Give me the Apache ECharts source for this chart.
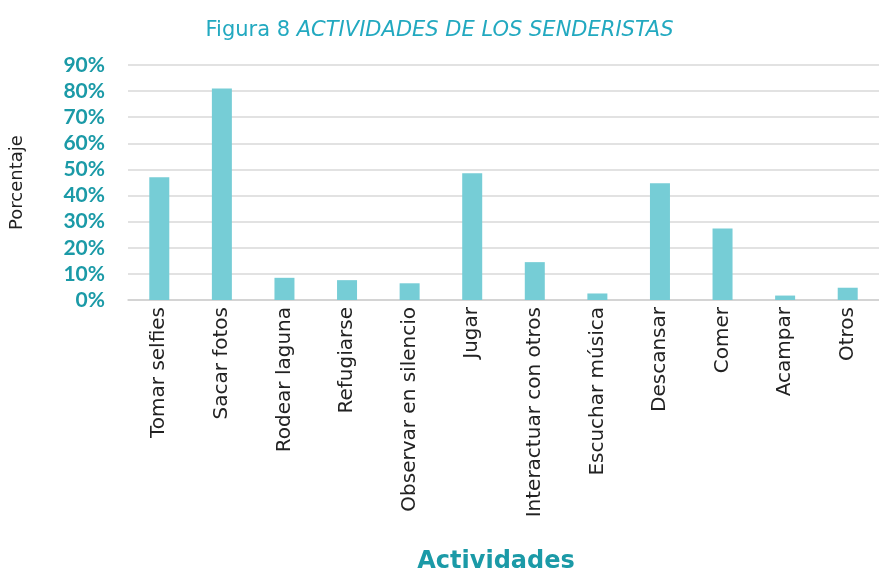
<!DOCTYPE html>
<html>
<head>
<meta charset="utf-8">
<script src="https://cdn.jsdelivr.net/npm/echarts@6/dist/echarts.min.js"></script>
<style>
  html, body { margin: 0; padding: 0; background: #fff; }
  #chart { width: 879px; height: 575px; }
</style>
</head>
<body>
<div id="chart"></div>
<script>
// actividades y porcentaje
const categories = ['Tomar selfies', 'Sacar fotos', 'Rodear laguna', 'Refugiarse', 'Observar en silencio', 'Jugar',
  'Interactuar con otros', 'Escuchar música', 'Descansar', 'Comer', 'Acampar', 'Otros'];
const values = [47, 81, 8.5, 7.6, 6.4, 48.5, 14.5, 2.5, 44.7, 27.4, 1.7, 4.7];

const teal = '#1b9aa7';
const chart = echarts.init(document.getElementById('chart'), null, {renderer: 'canvas'});
const option = {
  animation: false,
  title: {
    text: '{n|Figura 8 }{i|ACTIVIDADES DE LOS SENDERISTAS}',
    left: 'center',
    top: 15,
    textStyle: {
      rich: {
        n: {fontFamily: 'DejaVu Sans', fontSize: 21, fontWeight: 'normal', color: '#22a9c0'},
        i: {fontFamily: 'DejaVu Sans', fontSize: 21, fontWeight: 'normal', fontStyle: 'italic', color: '#22a9c0'}
      }
    }
  },
  grid: {left: 128, right: -12, top: 65, bottom: 271, containLabel: false},
  xAxis: {
    type: 'category',
    data: categories,
    name: 'Actividades',
    nameLocation: 'middle',
    nameGap: 250,
    nameTextStyle: {fontFamily: 'DejaVu Sans', fontSize: 24, fontWeight: 'bold', color: teal, padding: [0, 15, 0, 0]},
    axisLine: {lineStyle: {color: '#d0d0d0', width: 1.5}},
    axisTick: {show: false},
    axisLabel: {rotate: 90, interval: 0, margin: 7, fontFamily: 'DejaVu Sans', fontSize: 20, color: '#222'}
  },
  yAxis: {
    type: 'value',
    min: 0,
    max: 90,
    interval: 10,
    name: 'Porcentaje',
    nameLocation: 'middle',
    nameGap: 102,
    nameRotate: 90,
    nameTextStyle: {fontFamily: 'DejaVu Sans', fontSize: 18, color: '#222'},
    axisLine: {show: false},
    axisTick: {show: false},
    splitLine: {lineStyle: {color: '#d9d9d9', width: 1.5}},
    axisLabel: {formatter: '{value}%', margin: 23, fontFamily: 'Lato', fontSize: 21, fontWeight: 'bold', color: teal}
  },
  series: [{
    type: 'bar',
    data: values,
    barWidth: 20,
    itemStyle: {color: '#76cdd6'}
  }]
};
chart.setOption(option);
</script>
</body>
</html>
